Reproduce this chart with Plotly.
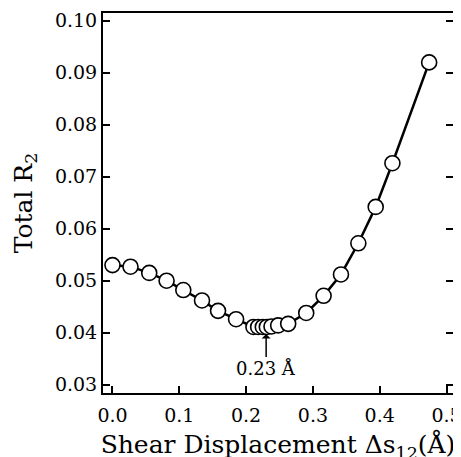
import plotly.graph_objects as go

shear_disp = [0.000, 0.027, 0.055, 0.081, 0.106, 0.134, 0.158, 0.185, 0.211, 0.218,
              0.225, 0.231, 0.238, 0.248, 0.263, 0.290, 0.316, 0.342, 0.368, 0.394,
              0.419, 0.474]
total_r2 = [0.0530, 0.0527, 0.0515, 0.0500, 0.0482, 0.0462, 0.0442, 0.0426, 0.0411, 0.0411,
            0.0411, 0.0411, 0.0412, 0.0414, 0.0417, 0.0438, 0.0471, 0.0512, 0.0572, 0.0642,
            0.0726, 0.0920]
x_ticks = [0.0, 0.1, 0.2, 0.3, 0.4, 0.5]
y_ticks = [0.03, 0.04, 0.05, 0.06, 0.07, 0.08, 0.09, 0.10]
min_x = 0.23
min_y = 0.0411

FONT = "DejaVu Serif"

fig = go.Figure()
fig.add_trace(go.Scatter(
    x=shear_disp, y=total_r2, mode="lines+markers",
    line=dict(color="black", width=2.5),
    marker=dict(size=15, color="white", line=dict(color="black", width=1.6)),
    showlegend=False, hoverinfo="skip"))

fig.add_annotation(
    x=min_x, y=min_y, text="0.23 Å", showarrow=True,
    ax=0, ay=42, axref="pixel", ayref="pixel",
    arrowhead=1, arrowsize=1, arrowwidth=1.5, arrowcolor="black",
    standoff=7, font=dict(family=FONT, size=18, color="black"))

axis_common = dict(
    showgrid=False, zeroline=False, showline=True, linecolor="black", linewidth=2,
    ticks="inside", ticklen=7, tickwidth=2, tickcolor="black", automargin=False,
    tickfont=dict(family=FONT, size=19, color="black"))

fig.update_xaxes(range=[-0.0142, 0.5097], tickvals=x_ticks, tickformat=".1f",
                 mirror=True, ticklabelstandoff=4,
                 title=dict(text="Shear Displacement Δs<sub>12</sub>(Å)",
                            font=dict(family=FONT, size=25, color="black"), standoff=11),
                 **axis_common)
fig.update_yaxes(range=[0.0284, 0.1015], tickvals=y_ticks, tickformat=".2f",
                 mirror="ticks",
                 title=dict(text="Total R<sub>2</sub>",
                            font=dict(family=FONT, size=25, color="black"), standoff=15),
                 **axis_common)

# the page body has an 8px default margin, so the plot area is offset for it
fig.update_layout(
    width=461, height=457,
    margin=dict(l=95, r=16, t=5, b=72),
    plot_bgcolor="white", paper_bgcolor="white",
    font=dict(family=FONT, color="black"))

fig.write_html("out.html")
